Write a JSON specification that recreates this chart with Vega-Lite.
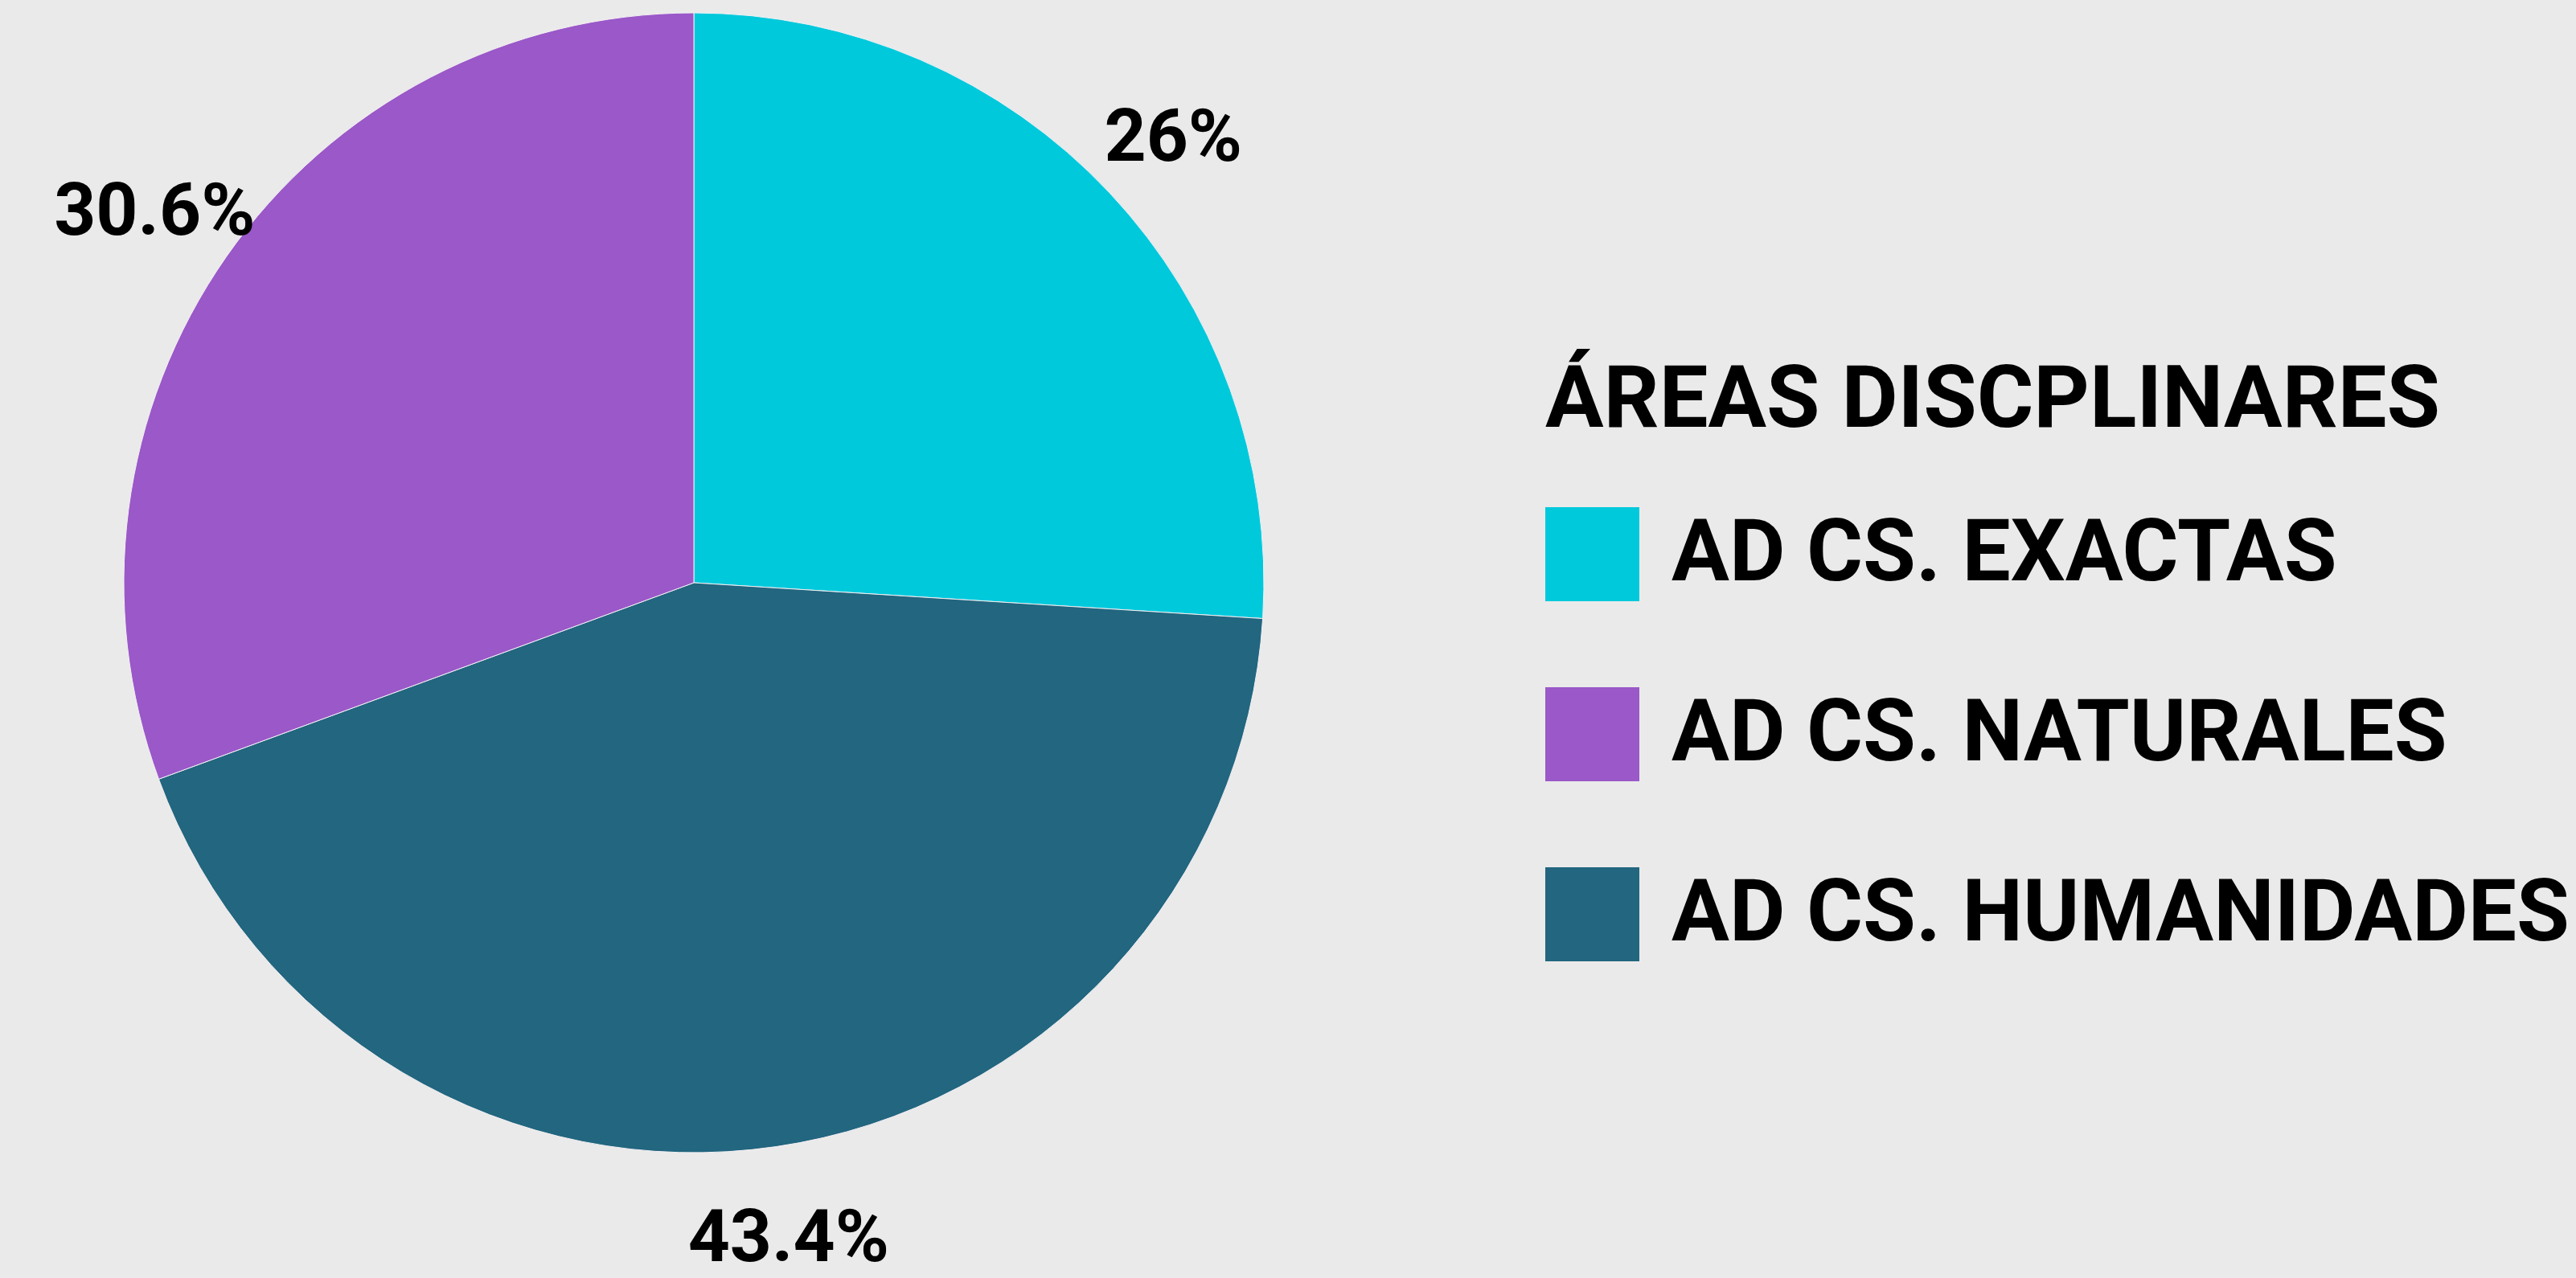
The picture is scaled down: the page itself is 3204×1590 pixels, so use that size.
{
  "$schema": "https://vega.github.io/schema/vega-lite/v6.json",
  "width": 1726,
  "height": 1450,
  "autosize": {"type": "none"},
  "padding": {"left": 0, "top": 0, "right": 1478, "bottom": 140},
  "background": "#eaeaea",
  "config": {"view": {"stroke": null}},
  "data": {
    "values": [
      {"area": "AD CS. EXACTAS", "valor": 26, "orden": 1, "etiqueta": "26%"},
      {"area": "AD CS. HUMANIDADES", "valor": 43.4, "orden": 2, "etiqueta": "43.4%"},
      {"area": "AD CS. NATURALES", "valor": 30.6, "orden": 3, "etiqueta": "30.6%"}
    ]
  },
  "encoding": {
    "theta": {"field": "valor", "type": "quantitative", "stack": true},
    "order": {"field": "orden", "type": "quantitative"}
  },
  "layer": [
    {
      "mark": {"type": "arc", "outerRadius": 709, "stroke": "#f4f0f4", "strokeWidth": 1},
      "encoding": {
        "color": {
          "field": "area",
          "type": "nominal",
          "scale": {
            "domain": ["AD CS. EXACTAS", "AD CS. NATURALES", "AD CS. HUMANIDADES"],
            "range": ["#00c9dc", "#9a58c8", "#22667f"]
          },
          "legend": {
            "title": "ÁREAS DISCPLINARES",
            "orient": "none",
            "legendX": 1922,
            "legendY": 446,
            "padding": 0,
            "titleFont": "Roboto",
            "titleFontSize": 108,
            "titleFontWeight": "bold",
            "titleColor": "#000000",
            "titleAnchor": "start",
            "titleAlign": "left",
            "titleLimit": 3000,
            "titlePadding": 77,
            "labelFont": "Roboto",
            "labelFontSize": 107,
            "labelFontWeight": "bold",
            "labelColor": "#000000",
            "labelLimit": 3000,
            "labelOffset": 40,
            "symbolType": "square",
            "symbolSize": 13689,
            "symbolStrokeWidth": 0,
            "symbolOpacity": 1,
            "rowPadding": 107
          }
        }
      }
    },
    {
      "mark": {
        "type": "text",
        "radius": 818,
        "dy": 8,
        "font": "Roboto",
        "fontSize": 91,
        "fontWeight": "bold",
        "color": "#000000",
        "align": "center",
        "baseline": "middle"
      },
      "encoding": {
        "text": {"field": "etiqueta", "type": "nominal"}
      }
    }
  ]
}
